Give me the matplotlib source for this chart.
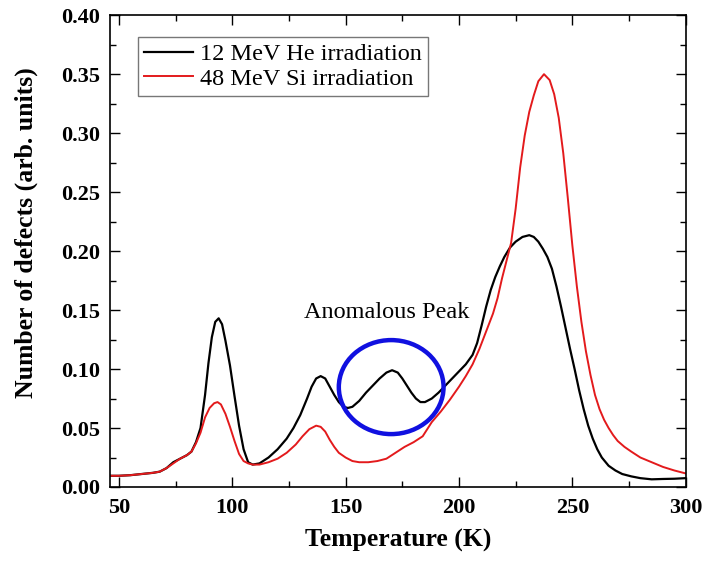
import matplotlib
matplotlib.use("Agg")
import matplotlib.pyplot as plt
from matplotlib.patches import Ellipse
from matplotlib.ticker import MultipleLocator, FormatStrFormatter

# 12 MeV He irradiation (black)
he_temp = [46, 50, 55, 60, 65, 68, 71, 74, 77, 80, 82, 84, 86, 88, 89.5, 91, 92.5, 94,
           95.5, 97, 99, 101, 103, 105, 107, 109, 112, 116, 120, 124, 127, 130, 133,
           135, 137, 139, 141, 143, 145, 147, 149, 151, 153, 156, 159, 162, 165, 168,
           170.5, 173, 175, 177, 179, 181, 183, 185, 188, 191, 194, 197, 200, 203, 206,
           208, 210, 212, 214, 216, 218, 220, 222.5, 225, 228, 231, 233, 235, 237, 239,
           241, 243, 245, 247, 249, 251, 253, 255, 257, 259, 261, 263, 266, 269, 272,
           276, 280, 285, 290, 295, 300]
he_defects = [0.0095, 0.0095, 0.010, 0.011, 0.012, 0.013, 0.016, 0.021, 0.024, 0.027,
              0.030, 0.038, 0.050, 0.078, 0.105, 0.127, 0.140, 0.143, 0.138, 0.124,
              0.103, 0.077, 0.052, 0.032, 0.021, 0.019, 0.020, 0.025, 0.032, 0.041,
              0.050, 0.061, 0.075, 0.085, 0.092, 0.094, 0.092, 0.085, 0.078, 0.072,
              0.068, 0.067, 0.068, 0.073, 0.080, 0.086, 0.092, 0.097, 0.099, 0.097,
              0.092, 0.086, 0.080, 0.075, 0.072, 0.072, 0.075, 0.080, 0.086, 0.092,
              0.098, 0.104, 0.112, 0.122, 0.137, 0.153, 0.167, 0.178, 0.187, 0.195,
              0.203, 0.208, 0.212, 0.2135, 0.212, 0.208, 0.202, 0.195, 0.185, 0.170,
              0.153, 0.135, 0.117, 0.100, 0.082, 0.066, 0.052, 0.041, 0.032, 0.025,
              0.018, 0.014, 0.011, 0.009, 0.0075, 0.0065, 0.0068, 0.0070, 0.0075]

# 48 MeV Si irradiation (red)
si_temp = [46, 50, 55, 60, 65, 68, 71, 74, 77, 80, 82, 84, 86, 88, 90, 92, 93.5, 95, 97,
           99, 101, 103, 105, 107, 109, 112, 116, 120, 124, 128, 131, 134, 137, 139, 141,
           143, 145, 147, 150, 153, 156, 160, 164, 168, 172, 176, 180, 184, 188, 192,
           196, 200, 203, 206, 209, 212, 215, 217, 219, 221, 223, 225, 227, 229, 231,
           233, 235, 237.5, 240, 242, 244, 246, 248, 250, 252, 254, 256, 258, 260, 262,
           264, 266, 268, 270, 273, 276, 280, 285, 290, 295, 300]
si_defects = [0.0095, 0.0095, 0.010, 0.011, 0.012, 0.013, 0.016, 0.020, 0.024, 0.027,
              0.030, 0.037, 0.046, 0.059, 0.067, 0.071, 0.072, 0.070, 0.062, 0.051,
              0.039, 0.028, 0.022, 0.020, 0.019, 0.019, 0.021, 0.024, 0.029, 0.036,
              0.043, 0.049, 0.052, 0.051, 0.047, 0.040, 0.034, 0.029, 0.025, 0.022,
              0.021, 0.021, 0.022, 0.024, 0.029, 0.034, 0.038, 0.043, 0.055, 0.064,
              0.074, 0.085, 0.094, 0.104, 0.117, 0.132, 0.147, 0.160, 0.177, 0.192,
              0.207, 0.236, 0.271, 0.298, 0.318, 0.332, 0.344, 0.350, 0.345, 0.333,
              0.313, 0.283, 0.245, 0.205, 0.170, 0.140, 0.115, 0.095, 0.078, 0.066,
              0.057, 0.050, 0.044, 0.039, 0.034, 0.030, 0.025, 0.021, 0.017, 0.014,
              0.0115]

labels = ["12 MeV He irradiation", "48 MeV Si irradiation"]

plt.rcParams['font.family'] = ['Liberation Serif', 'DejaVu Serif']

fig = plt.figure(figsize=(7.04, 5.63), dpi=100)
ax = fig.add_axes([0.156, 0.135, 0.818, 0.838])

ax.plot(he_temp, he_defects, color='black', lw=1.6, label=labels[0])
ax.plot(si_temp, si_defects, color='#e31a1c', lw=1.4, label=labels[1])

# highlight the anomalous peak
ax.add_patch(Ellipse((170.1, 0.0847), 46.2, 0.0797, fill=False,
                     edgecolor='#1010e0', lw=3.2, zorder=3))
ax.text(168, 0.148, "Anomalous Peak", fontsize=17.5, ha='center', va='center')

ax.set_xlim(46, 300)
ax.set_ylim(0, 0.40)
ax.xaxis.set_major_locator(MultipleLocator(50))
ax.xaxis.set_minor_locator(MultipleLocator(25))
ax.yaxis.set_major_locator(MultipleLocator(0.05))
ax.yaxis.set_minor_locator(MultipleLocator(0.025))
ax.yaxis.set_major_formatter(FormatStrFormatter('%.2f'))
ax.tick_params(which='both', direction='in', top=True, right=True, width=1)
ax.tick_params(which='major', length=7, labelsize=16)
ax.tick_params(axis='x', which='major', pad=8)
ax.tick_params(axis='y', which='major', pad=7)
ax.tick_params(which='minor', length=4)
for lab in ax.get_xticklabels() + ax.get_yticklabels():
    lab.set_fontweight('bold')
for sp in ax.spines.values():
    sp.set_linewidth(1.2)

ax.set_xlabel("Temperature (K)", fontsize=18.5, fontweight='bold', labelpad=8)
ax.set_ylabel("Number of defects (arb. units)", fontsize=18.5, fontweight='bold', labelpad=10)
ax.yaxis.set_label_coords(-0.125, 0.54)

leg = ax.legend(loc='upper left', bbox_to_anchor=(0.049, 0.953), fontsize=17.5,
                fancybox=False, edgecolor='#555555', handlelength=2.0,
                handletextpad=0.3, borderpad=0.25, labelspacing=0.1,
                borderaxespad=0)
leg.get_frame().set_linewidth(1.0)

fig.savefig("out.png", dpi=100)
